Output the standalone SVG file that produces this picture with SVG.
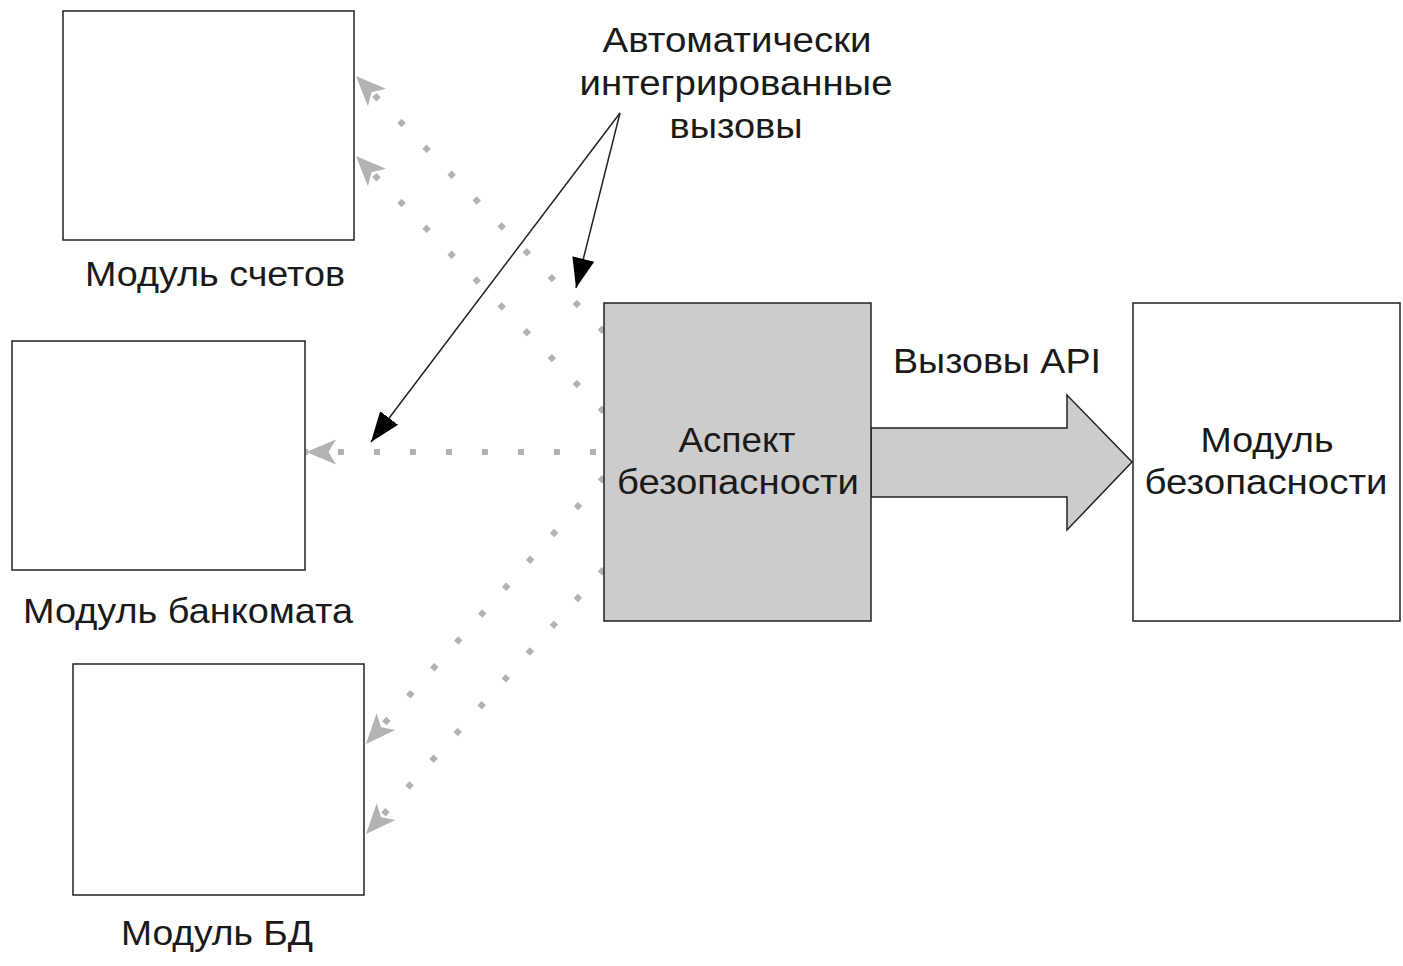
<svg xmlns="http://www.w3.org/2000/svg" width="1403" height="966" viewBox="0 0 1403 966">
<style>
.box{fill:#fff;stroke:#222;stroke-width:1.5}
.gbox{fill:#ccc;stroke:#222;stroke-width:1.5}
.t{font-family:"Liberation Sans",Arial,sans-serif;font-size:35px;fill:#1a1a1a;text-anchor:middle}
.dot{fill:none;stroke:#b3b3b3;stroke-width:6;stroke-dasharray:6 30}
.ann{fill:none;stroke:#222;stroke-width:1.5}
</style>
<defs>
<marker id="ga" markerUnits="userSpaceOnUse" markerWidth="30" markerHeight="30" refX="24" refY="10" orient="auto" viewBox="0 0 24 20">
<path d="M0,0 L24,10 L0,20 L6,10 Z" fill="#b3b3b3"/>
</marker>
<marker id="ba" markerUnits="userSpaceOnUse" markerWidth="30" markerHeight="30" refX="24" refY="9" orient="auto" viewBox="0 0 24 18">
<path d="M0,0 L24,9 L0,18 Z" fill="#000"/>
</marker>
</defs>
<g id="connectors">
<line class="dot" x1="604" y1="332" x2="356" y2="76" marker-end="url(#ga)"/>
<line class="dot" x1="604" y1="412" x2="356" y2="156" marker-end="url(#ga)"/>
<line class="dot" x1="596" y1="452" x2="306" y2="452" marker-end="url(#ga)"/>
<line class="dot" x1="604" y1="477" x2="366" y2="744" marker-end="url(#ga)"/>
<line class="dot" x1="604" y1="569" x2="366" y2="834" marker-end="url(#ga)"/>
<line class="ann" x1="620" y1="113" x2="371" y2="442" marker-end="url(#ba)"/>
<line class="ann" x1="620" y1="113" x2="576" y2="288" marker-end="url(#ba)"/>
<path id="api-arrow" d="M871,428 L1067,428 L1067,395 L1132,462 L1067,530 L1067,497 L871,497 Z" fill="#ccc" stroke="#222" stroke-width="1.5"/>
</g>
<g id="label-auto">
<text class="t" x="737" y="52" textLength="269" lengthAdjust="spacingAndGlyphs">Автоматически</text>
<text class="t" x="736" y="95" textLength="313" lengthAdjust="spacingAndGlyphs">интегрированные</text>
<text class="t" x="736" y="138" textLength="133" lengthAdjust="spacingAndGlyphs">вызовы</text>
</g>
<g id="label-api">
<text class="t" x="997" y="373" textLength="208" lengthAdjust="spacingAndGlyphs">Вызовы API</text>
</g>
<g id="node-accounts">
<rect class="box" x="63" y="11" width="291" height="229"/>
<text class="t" x="215" y="286" textLength="260" lengthAdjust="spacingAndGlyphs">Модуль счетов</text>
</g>
<g id="node-atm">
<rect class="box" x="12" y="341" width="293" height="229"/>
<text class="t" x="188" y="623" textLength="330" lengthAdjust="spacingAndGlyphs">Модуль банкомата</text>
</g>
<g id="node-db">
<rect class="box" x="73" y="664" width="291" height="231"/>
<text class="t" x="217" y="945" textLength="192" lengthAdjust="spacingAndGlyphs">Модуль БД</text>
</g>
<g id="node-aspect">
<rect class="gbox" x="604" y="303" width="267" height="318"/>
<text class="t" x="737" y="452" textLength="117" lengthAdjust="spacingAndGlyphs">Аспект</text>
<text class="t" x="738" y="494" textLength="242" lengthAdjust="spacingAndGlyphs">безопасности</text>
</g>
<g id="node-security">
<rect class="box" x="1133" y="303" width="267" height="318"/>
<text class="t" x="1267" y="452" textLength="133" lengthAdjust="spacingAndGlyphs">Модуль</text>
<text class="t" x="1266" y="494" textLength="243" lengthAdjust="spacingAndGlyphs">безопасности</text>
</g>
</svg>
